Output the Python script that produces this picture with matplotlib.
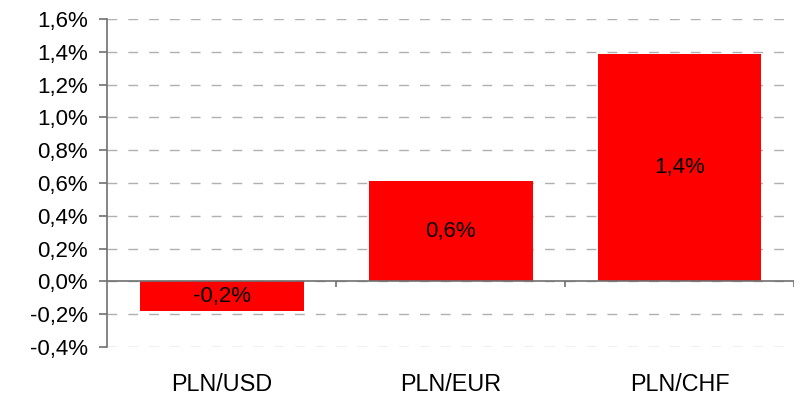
import numpy as np
import matplotlib.pyplot as plt
import matplotlib.ticker as ticker

# Currency pairs and their change in percent
pairs = ["PLN/USD", "PLN/EUR", "PLN/CHF"]
change = [-0.18, 0.61, 1.385]

plt.rcParams['font.family'] = ['Liberation Sans', 'DejaVu Sans']
FS = 16

fig = plt.figure(figsize=(8, 3.95), dpi=100)
ax = fig.add_axes([0.134, 0.1215, 0.8585, 0.8305])

x = np.arange(len(pairs))
bars = ax.bar(x, change, width=0.716, color='#ff0000', zorder=3)

# Value labels in the middle of each bar
for b, v in zip(bars, change):
    lbl = ("%.1f%%" % v).replace('.', ',')
    ax.text(b.get_x() + b.get_width() / 2, v / 2, lbl,
            ha='center', va='center', fontsize=FS, color='black', zorder=4)

ax.set_xlim(-0.5, len(pairs) - 0.5)
ax.set_ylim(-0.4, 1.6)
ax.yaxis.set_major_locator(ticker.MultipleLocator(0.2))
ax.yaxis.set_major_formatter(
    ticker.FuncFormatter(lambda v, p: ("%.1f%%" % v).replace('.', ',').replace('-0,0', '0,0')))

# Dashed gridlines
ax.grid(axis='y', color='#b0b0b0', linestyle=(0, (7, 8)), linewidth=1, zorder=0)

# Zero line with category separator ticks
ax.axhline(0, color='#707070', linewidth=1.2, zorder=5)
tick_len = 0.2 / 32.8 * 6
ax.vlines(np.arange(len(pairs)) + 0.5, -tick_len, 0, color='#707070', linewidth=1.2, zorder=5)

for s in ['top', 'right', 'bottom']:
    ax.spines[s].set_visible(False)
ax.spines['left'].set_color('#707070')
ax.spines['left'].set_linewidth(1.2)

ax.set_xticks(x)
ax.set_xticklabels(pairs)
ax.tick_params(axis='x', length=0, pad=19, labelsize=16.8)
ax.tick_params(axis='y', length=6, color='#707070', width=1.2, pad=8, labelsize=FS)

fig.savefig("out.png", dpi=100)
